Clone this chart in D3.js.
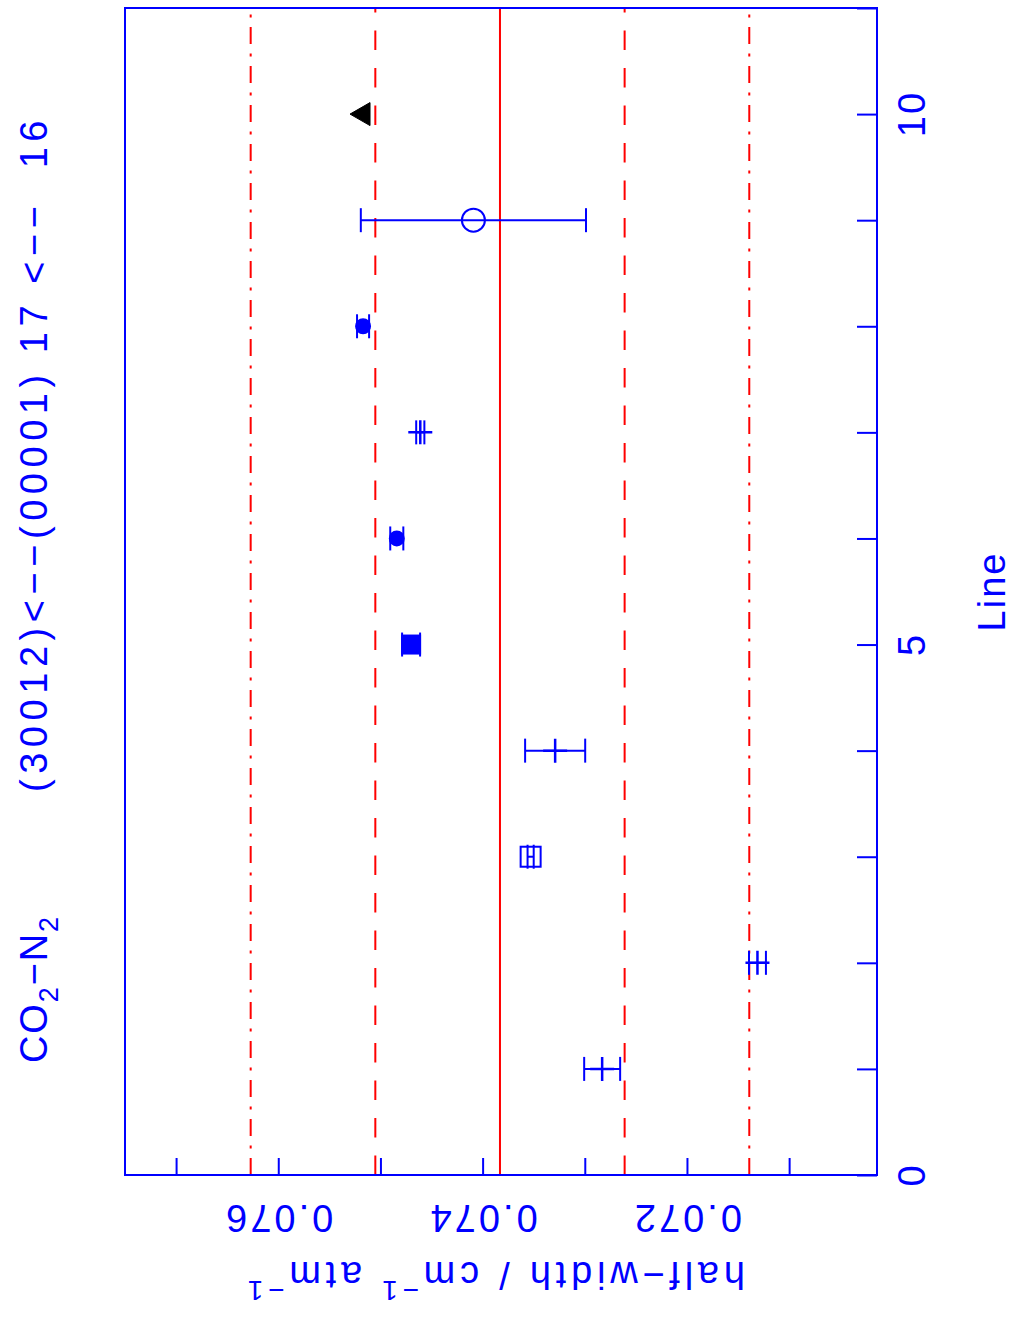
<!DOCTYPE html>
<html>
<head>
<meta charset="utf-8">
<script src="https://cdn.jsdelivr.net/npm/d3@7"></script>
<style>
  body { margin: 0; background: #fff; }
  text { font-family: "Liberation Sans", Arial, sans-serif; fill: #0000ff; }
</style>
</head>
<body>
<svg id="chart"></svg>
<script>
const width = 1015;
const height = 1318;

// measured lines (line number, half-width, error, plot symbol)
const lines = [1, 2, 3, 4, 5, 6, 7, 8, 9, 10];
const halfWidths = [0.07283, 0.07131, 0.07353, 0.07329, 0.07470, 0.07484, 0.07461, 0.07517, 0.07409, 0.07519];
const errors = [0.000176, 0.000083, 0.00003, 0.000294, 0.000088, 0.000064, 0.00004, 0.000059, 0.001102, 0];
const symbols = ["plus", "plus", "square", "plus", "squareFilled", "circleFilled", "plus", "circleFilled", "circle", "triangle"];

// reference lines (mean, +-1 sigma, +-2 sigma)
const refValues = [0.07627, 0.07505, 0.07383, 0.07261, 0.07139];
const refStyles = ["dashdot", "dashed", "solid", "dashed", "dashdot"];

// tick values and labels
const lineTicks = d3.range(0, 12);
const lineLabels = [0, 5, 10];
const hwTicks = [0.071, 0.072, 0.073, 0.074, 0.075, 0.076, 0.077];
const hwLabels = [0.072, 0.074, 0.076];

const blue = "#0000ff";
const red = "#ff0000";

const frame = {left: 125, right: 877, top: 8, bottom: 1175};

const svg = d3.select("#chart")
  .attr("width", width)
  .attr("height", height)
  .attr("viewBox", [0, 0, width, height]);

// plot is drawn rotated: "Line" runs upward, half-width decreases to the right
const x = d3.scaleLinear().domain([0.0775, 0.07014]).range([frame.left, frame.right]);
const y = d3.scaleLinear().domain([0, 11]).range([frame.bottom, frame.top]);

// reference lines
const dash = {solid: null, dashed: "19.5,18", dashdot: "17,9.5,3,9.5"};
svg.append("g")
  .selectAll("line")
  .data(refValues)
  .join("line")
    .attr("x1", d => x(d))
    .attr("x2", d => x(d))
    .attr("y1", frame.bottom)
    .attr("y2", frame.top)
    .attr("stroke", red)
    .attr("stroke-width", 2)
    .attr("stroke-dasharray", (d, i) => dash[refStyles[i]]);

// ticks on the two labelled sides only
function ticks(axis, tx, ty) {
  const g = svg.append("g").attr("transform", `translate(${tx},${ty})`).call(axis);
  g.select(".domain").remove();
  g.selectAll("text").remove();
  g.selectAll("line").attr("stroke", blue).attr("stroke-width", 2);
}
ticks(d3.axisRight(y).tickValues(lineTicks).tickSize(-20), frame.right, 0);
ticks(d3.axisBottom(x).tickValues(hwTicks).tickSize(-17), 0, frame.bottom);

// frame
svg.append("rect")
  .attr("x", frame.left)
  .attr("y", frame.top)
  .attr("width", frame.right - frame.left)
  .attr("height", frame.bottom - frame.top)
  .attr("fill", "none")
  .attr("stroke", blue)
  .attr("stroke-width", 2);

// data points
const points = lines.map((l, i) => ({line: l, hw: halfWidths[i], err: errors[i], sym: symbols[i]}));

const pt = svg.append("g")
  .selectAll("g")
  .data(points)
  .join("g")
    .attr("transform", d => `translate(${x(d.hw)},${y(d.line)})`)
    .attr("stroke", blue)
    .attr("stroke-width", 2)
    .attr("fill", "none");

// error bars with caps
pt.filter(d => d.err > 0).each(function(d) {
  const g = d3.select(this);
  const a = x(d.hw - d.err) - x(d.hw);
  const b = x(d.hw + d.err) - x(d.hw);
  g.append("line").attr("x1", a).attr("x2", b).attr("y1", 0).attr("y2", 0);
  g.append("line").attr("x1", a).attr("x2", a).attr("y1", -12).attr("y2", 12);
  g.append("line").attr("x1", b).attr("x2", b).attr("y1", -12).attr("y2", 12);
});

pt.each(function(d) {
  const g = d3.select(this);
  if (d.sym === "plus") {
    g.append("path").attr("d", "M-12,0H12M0,-12V12").attr("stroke-width", 2.5);
  } else if (d.sym === "square") {
    g.append("rect").attr("x", -10).attr("y", -10).attr("width", 20).attr("height", 20);
  } else if (d.sym === "squareFilled") {
    g.append("rect").attr("x", -9).attr("y", -9).attr("width", 18).attr("height", 18).attr("fill", blue);
  } else if (d.sym === "circleFilled") {
    g.append("circle").attr("r", 7).attr("fill", blue);
  } else if (d.sym === "circle") {
    g.append("circle").attr("r", 11.5);
  } else if (d.sym === "triangle") {
    g.append("path").attr("d", "M-11,0L9,-11.5L9,11.5Z").attr("fill", "#000").attr("stroke", "#000").attr("stroke-width", 1);
  }
});

// stretch a text to a measured length
function fit(sel, target) {
  const node = sel.node();
  const n = node.getNumberOfChars();
  const w = node.getComputedTextLength();
  sel.attr("letter-spacing", (target - w) / n);
}

const fs = 38;

// line tick labels (rotated)
svg.append("g")
  .selectAll("text")
  .data(lineLabels)
  .join("text")
    .attr("transform", d => `translate(925,${y(d)}) rotate(-90)`)
    .attr("text-anchor", "middle")
    .attr("font-size", fs)
    .attr("letter-spacing", 2)
    .text(d => d);

svg.append("text")
  .attr("transform", `translate(1005,${(frame.top + frame.bottom) / 2}) rotate(-90)`)
  .attr("text-anchor", "middle")
  .attr("font-size", fs)
  .attr("letter-spacing", 2)
  .text("Line");

// half-width tick labels (upside down)
svg.append("g")
  .selectAll("text")
  .data(hwLabels)
  .join("text")
    .attr("transform", d => `translate(${x(d)},1205) rotate(180)`)
    .attr("text-anchor", "middle")
    .attr("font-size", fs)
    .attr("letter-spacing", 3)
    .text(d => d3.format(".3f")(d));

const yl = svg.append("text")
  .attr("transform", "translate(745,1262) rotate(180)")
  .attr("font-size", fs);
yl.append("tspan").text("half\u2212width / cm");
yl.append("tspan").attr("font-size", 28).attr("dy", -19).text("\u22121");
yl.append("tspan").attr("dy", 19).text(" atm");
yl.append("tspan").attr("font-size", 28).attr("dy", -19).text("\u22121");
fit(yl, 502);

// title
const t1 = svg.append("text")
  .attr("transform", "translate(47,1063) rotate(-90)")
  .attr("font-size", fs);
t1.append("tspan").text("CO");
t1.append("tspan").attr("font-size", 27).attr("dy", 11).text("2");
t1.append("tspan").attr("dy", -11).text("\u2212N");
t1.append("tspan").attr("font-size", 27).attr("dy", 11).text("2");
fit(t1, 148);

const t2 = svg.append("text")
  .attr("transform", "translate(47,792) rotate(-90)")
  .attr("font-size", fs)
  .attr("xml:space", "preserve")
  .style("white-space", "pre")
  .text("(30012)<\u2212\u2212(00001) 17 <\u2212\u2212  16");
fit(t2, 677);
</script>
</body>
</html>
